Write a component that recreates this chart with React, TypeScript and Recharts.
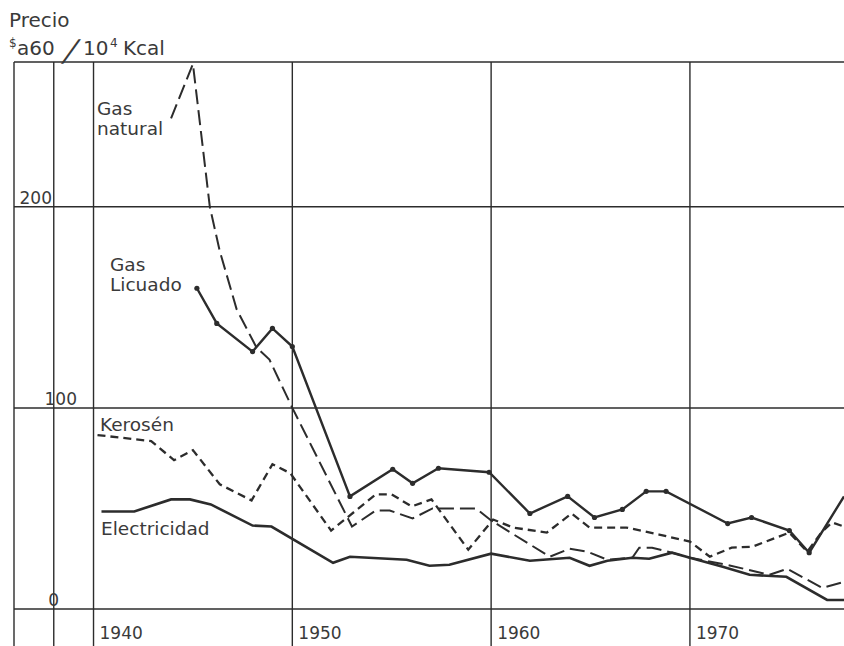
import React from "react";
import { LineChart, Line, XAxis, YAxis, ReferenceLine } from "recharts";

const INK = "#2c2c2c";
const TEXT = "#3a3a3a";
const FONT = "'DejaVu Sans', 'Liberation Sans', sans-serif";

// axes
const xTicks = [1940, 1950, 1960, 1970];
const gridYears = [1936, 1938, 1940, 1950, 1960, 1970];
const yTicks = [0, 100, 200];
const gridValues = [0, 100, 200, 272];

// Gas natural (long dashes)
const gasNaturalYears = [1943.9, 1945.0, 1945.85, 1946.35, 1947.2, 1948.2, 1948.85, 1950.0, 1953.0, 1954.2, 1954.9, 1956.05, 1957.05, 1959.25, 1960.0, 1962.95, 1963.95, 1964.85, 1965.85, 1967.1, 1967.45, 1968.1, 1969.1, 1970.0, 1971.85, 1974.0, 1974.9, 1976.65, 1977.75];
const gasNaturalValues = [244, 271, 200, 178, 149, 130, 124, 100, 41, 49, 49, 45, 50, 50, 44, 26, 30, 28.5, 24.5, 25.5, 30.5, 30.5, 28, 25.5, 22, 17, 20, 10.5, 13.5];

// Gas licuado (solid with dots)
const gasLicuadoYears = [1945.2, 1946.2, 1948.0, 1949.0, 1950.0, 1952.9, 1955.05, 1956.05, 1957.35, 1959.9, 1961.95, 1963.85, 1965.2, 1966.6, 1967.8, 1968.8, 1971.9, 1973.1, 1975.0, 1976.0, 1977.75];
const gasLicuadoValues = [159.5, 142, 128, 139.5, 130.5, 56, 69.5, 62.5, 70, 68, 47.5, 56, 45.5, 49.5, 58.5, 58.5, 42.5, 45.5, 39, 28, 56];

// Kerosén (short dashes)
const keroseneYears = [1940.2, 1942.9, 1944.05, 1945.0, 1946.35, 1947.95, 1949.0, 1949.9, 1951.95, 1954.2, 1955.0, 1956.0, 1957.0, 1958.85, 1960.1, 1961.1, 1962.8, 1964.05, 1964.95, 1966.8, 1968.45, 1970.0, 1971.0, 1972.1, 1973.15, 1975.0, 1975.9, 1976.65, 1977.15, 1977.75];
const keroseneValues = [86.5, 83.5, 74, 79, 62, 54, 72, 67.5, 39, 57, 57, 51, 54.5, 29.5, 44.5, 40.5, 38, 47.5, 40.5, 40.5, 37, 33.5, 26, 30.5, 31, 38, 28.5, 38.5, 43, 41];

// Electricidad (solid)
const electricYears = [1940.4, 1942.05, 1943.9, 1944.85, 1945.9, 1948.0, 1948.95, 1952.05, 1952.9, 1955.75, 1956.9, 1957.9, 1960.0, 1961.95, 1963.95, 1964.95, 1965.85, 1967.1, 1967.95, 1969.1, 1970.0, 1971.65, 1973.0, 1974.85, 1976.9, 1977.75];
const electricValues = [48.5, 48.5, 54.5, 54.5, 52, 41.5, 41, 23, 26, 24.5, 21.5, 22, 27.5, 24, 25.5, 21.5, 24, 25.5, 25, 28, 25.5, 21, 17, 16, 4.5, 4.5];

const zip = (years: number[], values: number[]) => years.map((year, i) => ({ year, value: values[i] }));

const gasNatural = zip(gasNaturalYears, gasNaturalValues);
const gasLicuado = zip(gasLicuadoYears, gasLicuadoValues);
const kerosene = zip(keroseneYears, keroseneValues);
const electric = zip(electricYears, electricValues);

// y labels sit at uneven spots in the print
const yLabelRight: Record<number, number> = { 0: 59, 100: 77, 200: 52 };

const YTick = ({ y, payload }: any) => (
  <text x={yLabelRight[payload.value]} y={y - 3} textAnchor="end" fontSize={17} fill={TEXT} fontFamily={FONT}>
    {payload.value}
  </text>
);

const XTick = ({ x, payload }: any) => (
  <text x={x + 6} y={639} textAnchor="start" fontSize={17} fill={TEXT} fontFamily={FONT}>
    {payload.value}
  </text>
);

const licuadoDot = (props: any) => {
  const { cx, cy, index } = props;
  if (index === gasLicuado.length - 1) return <g key={`d${index}`} />;
  return <circle key={`d${index}`} cx={cx} cy={cy} r={2.6} fill={INK} stroke="none" />;
};

export default function App() {
  return (
    <div style={{ position: "absolute", left: 0, top: 0, width: 844, height: 646, background: "#fff", overflow: "hidden" }}>
      <LineChart width={844} height={646} margin={{ top: 62, right: 0, bottom: 0, left: 0 }}>
        <XAxis
          dataKey="year"
          type="number"
          domain={[1936, 1977.75]}
          ticks={xTicks}
          allowDataOverflow
          height={37}
          axisLine={false}
          tickLine={false}
          tick={<XTick />}
        />
        <YAxis
          type="number"
          domain={[0, 272]}
          ticks={yTicks}
          width={14}
          axisLine={false}
          tickLine={false}
          tick={<YTick />}
          interval={0}
        />
        {gridValues.map((v) => (
          <ReferenceLine key={`h${v}`} y={v} stroke={INK} strokeWidth={1.5} ifOverflow="visible" />
        ))}
        {gridYears.map((yr) => (
          <ReferenceLine
            key={`v${yr}`}
            segment={[{ x: yr, y: -20 }, { x: yr, y: 272 }]}
            stroke={INK}
            strokeWidth={1.4}
            ifOverflow="visible"
          />
        ))}
        <Line data={electric} dataKey="value" type="linear" stroke={INK} strokeWidth={2.6} dot={false} isAnimationActive={false} />
        <Line data={kerosene} dataKey="value" type="linear" stroke={INK} strokeWidth={2.3} strokeDasharray="8 5" dot={false} isAnimationActive={false} />
        <Line data={gasNatural} dataKey="value" type="linear" stroke={INK} strokeWidth={2} strokeDasharray="15 6" dot={false} isAnimationActive={false} />
        <Line data={gasLicuado} dataKey="value" type="linear" stroke={INK} strokeWidth={2.4} dot={licuadoDot} isAnimationActive={false} />
      </LineChart>
      <svg width={844} height={646} style={{ position: "absolute", left: 0, top: 0, pointerEvents: "none" }} fontFamily={FONT} fill={TEXT}>
        <text x={9} y={27} fontSize={20}>Precio</text>
        <text x={9} y={47} fontSize={12}>$</text>
        <text x={17} y={55} fontSize={20}>a60</text>
        <text transform="translate(62,61) skewX(-22)" fontSize={30}>/</text>
        <text x={83} y={55} fontSize={20}>10</text>
        <text x={110} y={47} fontSize={12}>4</text>
        <text x={123} y={55} fontSize={20}>Kcal</text>

        <text x={97} y={115} fontSize={18.5}>Gas</text>
        <text x={97} y={135} fontSize={18.5}>natural</text>
        <text x={110} y={271} fontSize={18.5}>Gas</text>
        <text x={110} y={291} fontSize={18.5}>Licuado</text>
        <text x={100} y={431} fontSize={18.5}>Kerosén</text>
        <text x={101} y={535} fontSize={18.5}>Electricidad</text>
      </svg>
    </div>
  );
}
